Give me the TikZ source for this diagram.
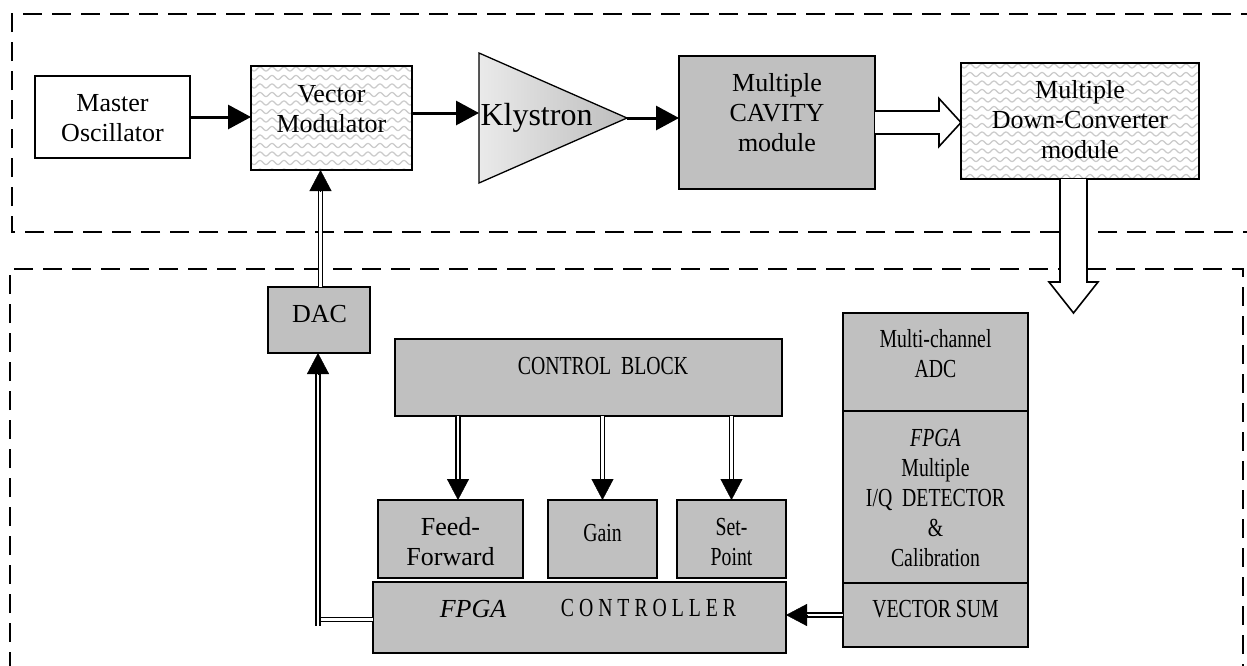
\documentclass[tikz,border=0pt]{standalone}
\usepackage{fontspec}
\setmainfont{Liberation Serif}
\newfontfamily\narrowfont[FakeStretch=0.76]{Liberation Serif}
\usetikzlibrary{arrows.meta,calc}
\definecolor{boxgray}{HTML}{C0C0C0}
\definecolor{wavegray}{HTML}{CACACA}
\definecolor{klyL}{HTML}{EAEAEA}
\definecolor{klyR}{HTML}{BDBDBD}
\tikzset{
 blk/.style={draw=black, line width=2.5pt, inner sep=0pt, outer sep=0pt},
 grayblk/.style={blk, fill=boxgray},
 thinblk/.style={draw=black, line width=1.7pt, fill=boxgray, inner sep=0pt, outer sep=0pt},
 wave/.style={wavegray, line width=1.2pt},
 lbl/.style={font=\fontsize{26}{30}\selectfont, align=center, inner sep=0pt},
 nlbl/.style={font=\narrowfont\fontsize{26}{30}\selectfont, align=center, inner sep=0pt},
 sig/.style={line width=3pt, -{Triangle[length=23pt,width=24pt]}},
 dbl/.style={double, double distance=2.4pt, line width=1.5pt},
 dtip/.style={line width=0.4pt, -{Triangle[length=21pt,width=22pt]}},
 hollow/.style={draw=black, fill=white, line width=1.6pt, line join=miter},
 zone/.style={line width=2.4pt, dash pattern=on 19pt off 10pt},
}
\newcommand\dblarrow[2]{%
  \draw[dbl, shorten >=20pt] #1 -- #2;
  \draw[dtip] ($#2!21pt!#1$) -- #2;}
% wavy fill: x1, y1, width, height
\newcommand\wavefill[4]{%
  \begin{scope}[shift={(#1,#2)}]
    \clip (0,0) rectangle (#3,#4);
    \fill[white] (0,0) rectangle (#3,#4);
    \foreach \r in {0,...,18}{
      \draw[wave] plot[domain=0:#3, samples=220] (\x,{3+\r*8.5+2*sin(30*\x)});}
  \end{scope}}
\begin{document}
\begin{tikzpicture}[x=1pt,y=-1pt]
\useasboundingbox (0,0) rectangle (1247,665);
\clip (0,0) rectangle (1247,665);

% zones
\draw[zone] (1262,232) -- (12,232) -- (12,14) -- (1262,14);
\draw[zone] (10,700) -- (10,269) -- (1243,269) -- (1243,700);

% top row
\node[blk, fill=white, minimum width=155pt, minimum height=82pt] (mo) at (112.5,117) {};
\node[lbl] (moT) at (112.5,118) {Master\\Oscillator};

\wavefill{251}{66}{161}{104}
\node[blk, minimum width=161pt, minimum height=104pt] (vm) at (331.5,118) {};
\node[lbl] (vmT) at (331.5,109) {Vector\\Modulator};

\coordinate (klA) at (479,53);
\coordinate (klB) at (479,183);
\coordinate (kltip) at (627,118);
\coordinate (klin) at (479,113);
\draw[line width=1.3pt, left color=klyL, right color=klyR, line join=miter] (klA) -- (kltip) -- (klB) -- cycle;
\node[font=\fontsize{32}{36}\selectfont, inner sep=0pt] (klT) at (536.5,118) {Klystron};

\node[grayblk, minimum width=196pt, minimum height=133pt] (cav) at (777,122.5) {};
\node[lbl] (cavT) at (777,113) {Multiple\\CAVITY\\module};

\wavefill{961}{63}{238}{116}
\node[blk, minimum width=238pt, minimum height=116pt] (dc) at (1080,121) {};
\node[lbl] (dcT) at (1080,120) {Multiple\\Down-Converter\\module};

% top arrows
\draw[sig] (mo.east) -- (vm.west |- mo.east);
\draw[sig] (vm.east |- klin) -- (klin);
\draw[sig] (kltip) -- (cav.west |- kltip);

% hollow arrows
\coordinate (h1tip) at (dc.west |- cav.east);
\draw[hollow] ($(cav.east)+(0,-11.5)$) -- ($(h1tip)+(-22,-11.5)$) -- ($(h1tip)+(-22,-24)$) -- (h1tip)
  -- ($(h1tip)+(-22,24)$) -- ($(h1tip)+(-22,11.5)$) -- ($(cav.east)+(0,11.5)$);

% right stack
\node[grayblk, minimum width=185pt, minimum height=98pt] (adc) at (935.5,362) {};
\node[nlbl] (adcT) at (935.5,354) {Multi-channel\\ADC};
\node[grayblk, minimum width=185pt, minimum height=172pt] (iq) at (935.5,497) {};
\node[nlbl] (iqT) at (935.5,498) {\textit{FPGA}\\Multiple\\I/Q\ \ DETECTOR\\\&\\Calibration};
\node[grayblk, minimum width=185pt, minimum height=64pt] (vs) at (935.5,615) {};
\node[nlbl] (vsT) at (935.5,609) {VECTOR SUM};

\coordinate (h2tip) at ($(adc.north)+(138,0)$);
\draw[hollow] ($(dc.south -| h2tip)+(-13.5,0)$) -- ($(h2tip)+(-13.5,-31)$) -- ($(h2tip)+(-24.5,-31)$) -- (h2tip)
  -- ($(h2tip)+(24.5,-31)$) -- ($(h2tip)+(13.5,-31)$) -- ($(dc.south -| h2tip)+(13.5,0)$);

% control part
\node[thinblk, minimum width=387pt, minimum height=77pt] (cb) at (588.5,377.5) {};
\node[nlbl] (cbT) at (603,366) {CONTROL\ \ BLOCK};

\node[thinblk, minimum width=145pt, minimum height=78pt] (ff) at (450.5,539) {};
\node[lbl] (ffT) at (450.5,542) {Feed-\\Forward};
\node[thinblk, minimum width=109pt, minimum height=78pt] (gain) at (602.5,539) {};
\node[nlbl] (gainT) at (602.5,533) {Gain};
\node[thinblk, minimum width=109pt, minimum height=78pt] (sp) at (731.5,539) {};
\node[nlbl] (spT) at (731.5,542) {Set-\\Point};

\node[thinblk, minimum width=413pt, minimum height=71pt] (ctrl) at (579.5,617.5) {};
\node[lbl, font=\fontsize{26}{30}\selectfont\itshape] (ctrlF) at (473,608.5) {FPGA};
\node[nlbl] (ctrlT) at (648.5,608.5) {C O N T R O L L E R};

\node[grayblk, minimum width=102pt, minimum height=66pt] (dac) at (319,320) {};
\node[lbl] (dacT) at (319.5,314) {DAC};

% double arrows
\coordinate (ffin) at ($(ff.north)+(7.5,0)$);
\dblarrow{(cb.south -| ffin)}{(ffin)}
\dblarrow{(cb.south -| gain.north)}{(gain.north)}
\dblarrow{(cb.south -| sp.north)}{(sp.north)}
\dblarrow{(vs.west)}{(ctrl.east |- vs.west)}

\coordinate (bend) at ($(dac.south |- ctrl.west)+(-1,2)$);
\draw[dbl] (ctrl.west |- bend) -- ($(bend)+(2,0)$);
\dblarrow{($(bend)+(0,6)$)}{(dac.south -| bend)}
\coordinate (vmin) at ($(vm.south -| dac.north)+(1.5,0)$);
\dblarrow{(dac.north -| vmin)}{(vmin)}
\end{tikzpicture}
\end{document}
